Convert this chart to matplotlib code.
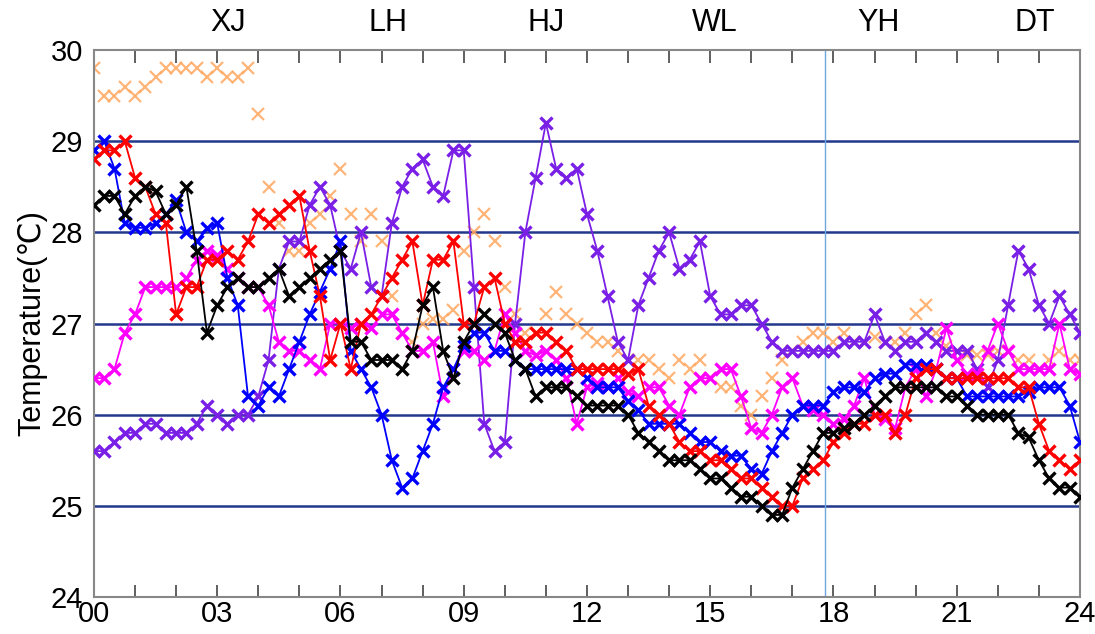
import matplotlib
matplotlib.use("Agg")
import matplotlib.pyplot as plt
import numpy as np

plt.rcParams['font.family'] = ['Liberation Sans', 'DejaVu Sans']

# time axis, every 15 min
hours = np.arange(0, 24.01, 0.25)

purple = [25.6, 25.6, 25.7, 25.8, 25.8, 25.9, 25.9, 25.8, 25.8, 25.8, 25.9, 26.1,
          26.0, 25.9, 26.0, 26.0, 26.2, 26.6, 27.6, 27.9, 27.9, 28.3, 28.5, 28.3,
          27.8, 27.6, 28.0, 27.4, 27.3, 28.1, 28.5, 28.7, 28.8, 28.5, 28.4, 28.9,
          28.9, 27.4, 25.9, 25.6, 25.7, 27.0, 28.0, 28.6, 29.2, 28.7, 28.6, 28.7,
          28.2, 27.8, 27.3, 26.8, 26.6, 27.2, 27.5, 27.8, 28.0, 27.6, 27.7, 27.9,
          27.3, 27.1, 27.1, 27.2, 27.2, 27.0, 26.8, 26.7, 26.7, 26.7, 26.7, 26.7,
          26.7, 26.8, 26.8, 26.8, 27.1, 26.8, 26.7, 26.8, 26.8, 26.9, 26.8, 26.7,
          26.7, 26.7, 26.5, 26.3, 26.6, 27.2, 27.8, 27.6, 27.2, 27.0, 27.3, 27.1,
          26.9]

blue = [28.9, 29.0, 28.7, 28.1, 28.05, 28.05, 28.1, 28.2, 28.35, 28.0, 27.9, 28.05,
        28.1, 27.5, 27.2, 26.2, 26.1, 26.3, 26.2, 26.5, 26.8, 27.1, 27.35, 27.6,
        27.9, 26.7, 26.5, 26.3, 26.0, 25.5, 25.2, 25.3, 25.6, 25.9, 26.3, 26.5,
        26.75, 26.9, 26.9, 26.7, 26.7, 26.6, 26.5, 26.5, 26.5, 26.5, 26.5, 26.5,
        26.4, 26.3, 26.3, 26.3, 26.15, 26.05, 25.9, 25.9, 25.9, 25.9, 25.8, 25.7,
        25.7, 25.6, 25.55, 25.55, 25.4, 25.35, 25.6, 25.8, 26.0, 26.1, 26.1, 26.1,
        26.25, 26.3, 26.3, 26.25, 26.4, 26.45, 26.45, 26.55, 26.55, 26.55, 26.5, 26.4,
        26.4, 26.2, 26.2, 26.2, 26.2, 26.2, 26.2, 26.25, 26.3, 26.3, 26.3, 26.1,
        25.7]

red = [28.8, 28.9, 28.9, 29.0, 28.6, 28.5, 28.2, 28.1, 27.1, 27.4, 27.4, 27.7,
       27.7, 27.8, 27.7, 27.9, 28.2, 28.1, 28.2, 28.3, 28.4, 27.8, 27.3, 26.6,
       27.0, 26.5, 27.0, 27.1, 27.3, 27.5, 27.7, 27.9, 27.2, 27.7, 27.7, 27.9,
       27.0, 27.0, 27.4, 27.5, 27.0, 26.8, 26.8, 26.9, 26.9, 26.8, 26.7, 26.5,
       26.5, 26.5, 26.5, 26.5, 26.45, 26.5, 26.1, 26.0, 25.9, 25.7, 25.6, 25.6,
       25.5, 25.5, 25.4, 25.3, 25.3, 25.2, 25.1, 25.0, 25.0, 25.3, 25.4, 25.5,
       25.7, 25.8, 25.9, 25.9, 26.0, 26.0, 25.8, 26.0, 26.4, 26.5, 26.5, 26.4,
       26.4, 26.4, 26.4, 26.4, 26.4, 26.4, 26.3, 26.3, 25.9, 25.6, 25.5, 25.4,
       25.5]

black = [28.3, 28.4, 28.4, 28.2, 28.4, 28.5, 28.45, 28.2, 28.3, 28.5, 27.8, 26.9,
         27.2, 27.4, 27.5, 27.4, 27.4, 27.5, 27.6, 27.3, 27.4, 27.5, 27.6, 27.7,
         27.8, 26.8, 26.8, 26.6, 26.6, 26.6, 26.5, 26.7, 27.2, 27.4, 26.7, 26.4,
         26.8, 27.0, 27.1, 27.0, 26.9, 26.6, 26.5, 26.2, 26.3, 26.3, 26.3, 26.2,
         26.1, 26.1, 26.1, 26.1, 26.0, 25.8, 25.7, 25.6, 25.5, 25.5, 25.5, 25.4,
         25.3, 25.3, 25.2, 25.1, 25.1, 25.0, 24.9, 24.9, 25.2, 25.4, 25.6, 25.8,
         25.8, 25.85, 25.9, 26.0, 26.1, 26.2, 26.3, 26.3, 26.3, 26.3, 26.3, 26.2,
         26.2, 26.1, 26.0, 26.0, 26.0, 26.0, 25.8, 25.75, 25.5, 25.3, 25.2, 25.2,
         25.1]

magenta = [26.4, 26.4, 26.5, 26.9, 27.1, 27.4, 27.4, 27.4, 27.4, 27.5, 27.7, 27.8,
           27.75, 27.6, 27.5, 27.4, 27.4, 27.2, 26.8, 26.7, 26.7, 26.6, 26.5, 27.0,
           27.0, 26.95, 27.0, 26.95, 27.1, 27.1, 26.9, 26.7, 26.7, 26.8, 26.2, 26.5,
           26.7, 26.7, 26.6, 26.7, 27.1, 26.9, 26.7, 26.65, 26.7, 26.6, 26.4, 25.9,
           26.3, 26.35, 26.3, 26.4, 26.25, 26.2, 26.3, 26.3, 26.1, 26.0, 26.3, 26.4,
           26.4, 26.5, 26.5, 26.2, 25.85, 25.8, 26.0, 26.3, 26.4, 26.1, 26.05, 26.0,
           25.9, 25.95, 26.1, 26.4, 26.0, 25.95, 25.85, 26.3, 26.5, 26.2, 26.5, 26.95,
           26.6, 26.45, 26.45, 26.7, 27.0, 26.7, 26.5, 26.5, 26.5, 26.5, 27.0, 26.5,
           26.45]

orange = [29.8, 29.5, 29.5, 29.6, 29.5, 29.6, 29.7, 29.8, 29.8, 29.8, 29.8, 29.7,
          29.8, 29.7, 29.7, 29.8, 29.3, 28.5, 28.1, 27.8, 27.8, 28.1, 28.2, 28.4,
          28.7, 28.2, 27.9, 28.2, 27.9, 27.3, 26.9, 26.8, 27.0, 27.05, 27.05, 27.15,
          27.8, 28.0, 28.2, 27.9, 27.4, 27.1, 26.9, 26.9, 27.1, 27.35, 27.1, 27.0,
          26.9, 26.8, 26.8, 26.7, 26.6, 26.6, 26.6, 26.5, 26.4, 26.6, 26.5, 26.6,
          26.4, 26.3, 26.3, 26.1, 26.0, 26.2, 26.4, 26.6, 26.7, 26.8, 26.9, 26.9,
          26.8, 26.9, 26.8, 26.8, 26.85, 26.8, 26.8, 26.9, 27.1, 27.2, 26.9, 26.75,
          26.7, 26.65, 26.65, 26.65, 26.7, 26.7, 26.6, 26.6, 26.5, 26.6, 26.7, 26.6,
          26.6]

grid_levels = [25, 26, 27, 28, 29]
hour_ticks = list(range(25))
tick_labels = ['00', '03', '06', '09', '12', '15', '18', '21', '24']
sites = ['XJ', 'LH', 'HJ', 'WL', 'YH', 'DT']
site_pos = [3.26, 7.15, 11.0, 15.1, 19.1, 22.9]
marker_time = 17.8

fig = plt.figure(figsize=(10.95, 6.34), dpi=100)
ax = fig.add_axes([0.0858, 0.0584, 0.9005, 0.8626])

for g in grid_levels:
    ax.axhline(g, color='#22388c', lw=1.8, zorder=1)
ax.axvline(marker_time, color='#6fa8dc', lw=1.0, zorder=1)

ax.plot(hours, orange, 'x', color='#ffa860', ms=8, mew=1.6, alpha=0.85, zorder=2)
style = dict(ms=8.5, mew=2.4, lw=1.3)
ax.plot(hours, purple, '-x', color='#7a1fe6', zorder=3, **style)
ax.plot(hours, magenta, '-x', color='#ff00ff', zorder=4, **style)
ax.plot(hours, blue, '-x', color='#0000ff', zorder=5, **style)
ax.plot(hours, red, '-x', color='#ff0000', zorder=6, **style)
ax.plot(hours, black, '-x', color='#000000', zorder=7, **style)

ax.set_xlim(0, 24)
ax.set_ylim(24, 30)
ax.set_xticks(hour_ticks)
ax.set_xticklabels([tick_labels[i // 3] if i % 3 == 0 else '' for i in hour_ticks],
                   fontsize=21)
ax.set_yticks([24, 25, 26, 27, 28, 29, 30])
ax.tick_params(axis='y', length=0, labelsize=21, pad=8)
ax.tick_params(axis='x', direction='in', length=9, width=1.2, color='#444444',
               top=True, bottom=True, pad=2)
for s in ax.spines.values():
    s.set_color('#888888')
    s.set_linewidth(1.5)

for name, p in zip(sites, site_pos):
    ax.text(p, 30.3, name, fontsize=22, ha='center', va='center')

ax.set_ylabel('Temperature(℃)', fontsize=22, labelpad=2)

fig.savefig('out.png', dpi=100)
